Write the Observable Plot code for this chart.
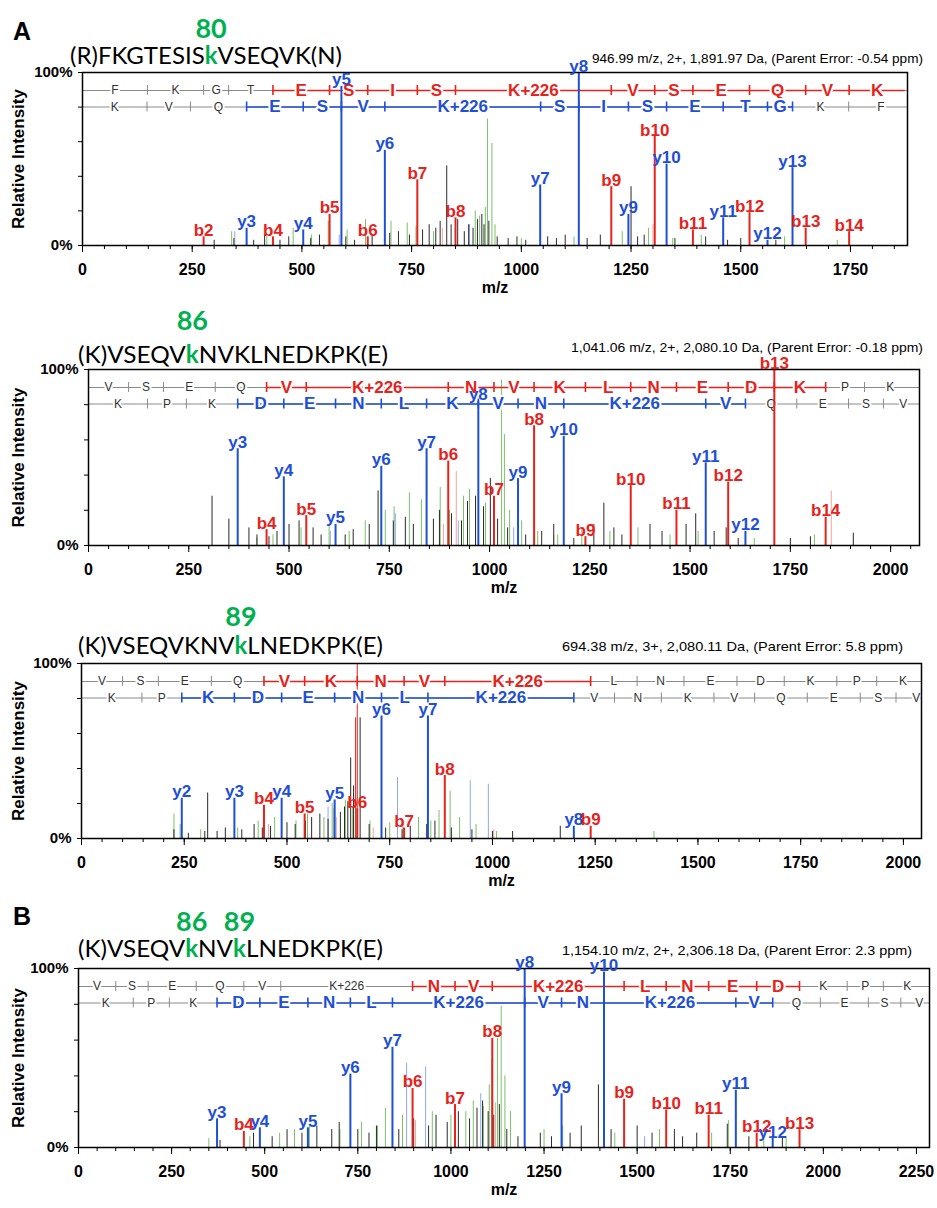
<!DOCTYPE html>
<html><head><meta charset="utf-8">
<script src="https://cdn.jsdelivr.net/npm/d3@7"></script>
<script src="https://cdn.jsdelivr.net/npm/@observablehq/plot@0.6"></script>
<style>
html,body{margin:0;padding:0;background:#fff;}
#page{position:relative;width:937px;height:1208px;overflow:hidden;background:#fff;}
#page svg{position:absolute;left:0;}
</style></head>
<body><div id="page"></div>
<script>
// ================= DATA =================
// ---- Panel A : (R)FKGTESISkVSEQVK(N) ----
const A_peptide = "(R)FKGTESISkVSEQVK(N)";
const A_sites = ["80"];
const A_info = "946.99 m/z, 2+, 1,891.97 Da,  (Parent Error: -0.54 ppm)";
const A_ionNames = ["b2","y3","b4","y4","b5","y5","b6","y6","b7","b8","y7","y8","b9","y9","b10","y10","b11","y11","b12","y12","y13","b13","b14"];
const A_ionMz    = [276,374,434,503,563,590,650,689,763,850,1043,1131,1205,1244,1304,1331,1391,1460,1520,1561,1618,1648,1747];
const A_ionInt   = [5,10,5,9,18,92,5,55,38,16,35,100,34,18,63,47,9,16,19,3,45,10,8];
const A_bgMz  = [300,345,390,415,450,470,520,540,600,620,660,700,720,745,775,790,805,815,830,840,855,870,880,890,900,910,915,926,945,970,990,1010,1060,1080,1100,1150,1180,1250,1265,1280,1350,1420,1470,1500,1580,
                 340,420,480,522,560,603,645,703,740,760,800,895,905,918,923,933,940,1000,1120,1230,1290,1345,1410,1600,1720,
                 347,585,882, 820,1300];
const A_bgInt = [3,4,3,6,3,5,4,6,5,3,6,7,8,6,9,12,10,14,46,12,15,8,12,10,15,18,12,14,5,4,5,3,5,4,6,4,6,34,5,6,4,5,3,4,3,
                 8,7,10,6,14,9,15,14,13,11,8,20,17,22,73,59,12,4,5,8,10,4,6,5,3,
                 8,6,12, 10,12];
const A_bgKind = ["k","k","k","k","k","k","k","k","k","k","k","k","k","k","k","k","k","k","k","k","k","k","k","k","k","k","k","k","k","k","k","k","k","k","k","k","k","k","k","k","k","k","k","k","k",
                 "g","g","g","g","g","g","g","g","g","g","g","g","g","g","g","g","g","g","g","g","g","g","g","g","g",
                 "lb","lb","lb","lr","lr"];
const A_bRes = ["F","K","G","T","E","S","I","S","K+226","V","S","E","Q","V","K"];
const A_bCut = [0,148,276,333,434,563,650,763,850,1205,1304,1391,1520,1648,1747,1875];
const A_bOn  = [0,0,0,0,1,1,1,1,1,1,1,1,1,1,1];
const A_yRes = ["K","V","Q","E","S","V","K+226","S","I","S","E","T","G","K","F"];
const A_yCut = [0,147,246,374,503,590,689,1044,1131,1244,1331,1460,1561,1618,1746,1893];
const A_yOn  = [0,0,0,1,1,1,1,1,1,1,1,1,1,0,0];

// ---- Panel 86 : (K)VSEQVkNVKLNEDKPK(E) ----
const C86_peptide = "(K)VSEQVkNVKLNEDKPK(E)";
const C86_sites = ["86"];
const C86_info = "1,041.06 m/z, 2+, 2,080.10 Da,  (Parent Error: -0.18 ppm)";
const C86_ionNames = ["y3","b4","y4","b5","y5","y6","y7","b6","y8","b7","y9","b8","y10","b9","b10","b11","y11","b12","y12","b13","b14"];
const C86_ionMz    = [372,444,487,543,616,730,843,897,972,1011,1071,1111,1185,1239,1352,1466,1539,1595,1638,1710,1838];
const C86_ionInt   = [55,9,39,17,12,45,55,48,82,28,38,68,62,5,34,20,47,36,8,100,16];
const C86_bgMz  = [308,350,400,420,450,470,500,525,560,580,640,660,700,722,760,790,810,860,875,905,930,945,965,985,1002,1020,1045,1090,1130,1160,1210,1260,1285,1310,1330,1400,1430,1490,1514,1560,1590,1620,1750,1800,1907,
                   420,460,530,600,650,690,740,762,800,830,877,900,935,950,990,1030,1037,1050,1080,1120,1170,1230,1300,1370,1450,1520,1660,1810,
                   603,765,922,1060, 885,917,1160,1852];
const C86_bgInt = [28,15,10,6,5,8,12,14,10,6,6,9,12,31,14,16,12,15,20,18,14,25,28,22,38,15,10,6,8,12,4,12,24,10,6,12,8,12,18,8,10,4,4,5,7,
                   4,6,10,12,8,14,20,22,30,26,33,20,28,32,24,94,63,20,14,8,6,10,8,10,6,8,4,6,
                   8,18,14,10, 12,42,6,31];
const C86_bgKind = ["k","k","k","k","k","k","k","k","k","k","k","k","k","k","k","k","k","k","k","k","k","k","k","k","k","k","k","k","k","k","k","k","k","k","k","k","k","k","k","k","k","k","k","k","k",
                   "g","g","g","g","g","g","g","g","g","g","g","g","g","g","g","g","g","g","g","g","g","g","g","g","g","g","g","g",
                   "lb","lb","lb","lb","lr","lr","lr","lr"];
const C86_bRes = ["V","S","E","Q","V","K+226","N","V","K","L","N","E","D","K","P","K"];
const C86_bCut = [0,100,187,316,444,543,897,1011,1111,1239,1352,1466,1595,1710,1838,1935,2063];
const C86_bOn  = [0,0,0,0,1,1,1,1,1,1,1,1,1,1,0,0];
const C86_yRes = ["K","P","K","D","E","N","L","K","V","N","K+226","V","Q","E","S","V"];
const C86_yCut = [0,147,244,372,487,616,730,843,972,1071,1185,1539,1638,1766,1895,1982,2081];
const C86_yOn  = [0,0,0,1,1,1,1,1,1,1,1,1,0,0,0,0];

// ---- Panel 89 : (K)VSEQVKNVkLNEDKPK(E) ----
const C89_peptide = "(K)VSEQVKNVkLNEDKPK(E)";
const C89_sites = ["89"];
const C89_info = "694.38 m/z, 3+, 2,080.11 Da,  (Parent Error: 5.8 ppm)";
const C89_ionNames = ["y2","y3","b4","y4","b5","y5","b6","y6","b7","y7","b8","y8","b9"];
const C89_ionMz    = [244,372,444,487,543,616,671,730,785,843,884,1198,1239];
const C89_ionInt   = [23,23,19,23,14,22,17,70,6,70,36,7,7];
const C89_bgMz  = [225,260,300,307,330,350,390,420,440,460,500,520,545,560,580,600,615,630,640,648,655,662,678,700,740,780,800,840,860,900,950,1000,1049,1165,
                   225,240,290,380,430,470,522,550,590,610,642,660,702,750,782,820,850,870,897,920,960,1010,1393,
                   600,769,946,990, 455,620,710,1003, 667,671];
const C89_bgInt = [5,3,4,26,4,6,5,8,6,7,9,8,10,12,14,11,17,15,18,21,46,30,69,8,6,5,7,8,10,6,5,4,4,7,
                   14,8,5,6,10,12,10,14,12,20,22,18,10,9,8,12,10,16,27,12,8,4,4,
                   18,35,33,31, 8,12,6,5, 69,100];
const C89_bgKind = ["k","k","k","k","k","k","k","k","k","k","k","k","k","k","k","k","k","k","k","k","k","k","k","k","k","k","k","k","k","k","k","k","k","k",
                   "g","g","g","g","g","g","g","g","g","g","g","g","g","g","g","g","g","g","g","g","g","g","g",
                   "lb","lb","lb","lb","lr","lr","lr","lr","r","r"];
const C89_bRes = ["V","S","E","Q","V","K","N","V","K+226","L","N","E","D","K","P","K"];
const C89_bCut = [0,100,187,316,444,543,671,785,884,1239,1352,1466,1595,1710,1838,1935,2063];
const C89_bOn  = [0,0,0,0,1,1,1,1,1,0,0,0,0,0,0,0];
const C89_yRes = ["K","P","K","D","E","N","L","K+226","V","N","K","V","Q","E","S","V"];
const C89_yCut = [0,147,244,372,487,616,730,843,1198,1297,1411,1539,1638,1766,1895,1982,2081];
const C89_yOn  = [0,0,1,1,1,1,1,1,0,0,0,0,0,0,0,0];

// ---- Panel B : (K)VSEQVkNVkLNEDKPK(E) ----
const B_peptide = "(K)VSEQVkNVkLNEDKPK(E)";
const B_sites = ["86","89"];
const B_info = "1,154.10 m/z, 2+, 2,306.18 Da,  (Parent Error: 2.3 ppm)";
const B_ionNames = ["y3","b4","y4","y5","y6","y7","b6","b7","b8","y8","y9","y10","b9","b10","b11","y11","b12","y12","b13"];
const B_ionMz    = [372,444,487,616,730,843,897,1011,1111,1198,1297,1411,1465,1578,1692,1765,1821,1864,1936];
const B_ionInt   = [16,9,11,11,41,56,33,24,61,100,30,98,27,21,18,32,8,5,10];
const B_bgMz  = [380,470,520,560,600,640,680,700,750,780,800,860,900,940,960,990,1020,1050,1070,1085,1100,1115,1130,1150,1180,1240,1270,1320,1350,1396,1430,1500,1540,1600,1622,1660,1742,1800,1890,
                 350,460,540,580,620,702,760,803,824,870,950,1000,1040,1060,1087,1103,1110,1125,1135,1145,1160,1250,1300,1440,1560,1700,1745,1840,1900,
                 881,932,1080,1520, 905,1120];
const B_bgInt = [4,8,6,10,8,12,10,14,10,8,12,10,16,12,18,14,20,16,22,26,20,18,24,10,6,8,6,8,12,35,10,12,8,10,6,8,13,6,5,
                 5,6,8,10,12,10,14,12,22,18,20,18,20,26,23,35,49,61,79,40,20,10,12,8,10,8,15,6,5,
                 47,45,30,6, 15,25];
const B_bgKind = ["k","k","k","k","k","k","k","k","k","k","k","k","k","k","k","k","k","k","k","k","k","k","k","k","k","k","k","k","k","k","k","k","k","k","k","k","k","k","k",
                 "g","g","g","g","g","g","g","g","g","g","g","g","g","g","g","g","g","g","g","g","g","g","g","g","g","g","g","g","g",
                 "lb","lb","lb","lb","lr","lr"];
const B_bRes = ["V","S","E","Q","V","K+226","N","V","K+226","L","N","E","D","K","P","K"];
const B_bCut = [0,100,187,316,444,543,897,1011,1111,1465,1578,1692,1821,1936,2064,2161,2289];
const B_bOn  = [0,0,0,0,0,0,1,1,1,1,1,1,1,0,0,0];
const B_yRes = ["K","P","K","D","E","N","L","K+226","V","N","K+226","V","Q","E","S","V"];
const B_yCut = [0,147,244,372,487,616,730,843,1198,1297,1411,1765,1864,1992,2121,2208,2307];
const B_yOn  = [0,0,0,1,1,1,1,1,1,1,1,1,0,0,0,0];

const xTickLabels = [0,250,500,750,1000,1250,1500,1750,2000,2250];

// ================= STYLE / LAYOUT =================
const W = 937, PAGE_H = 1208;
const RED = "#e5231d", BLUE = "#1f4fd3", SITE_GREEN = "#00b050";
const BGCOL = {k:"#2a2a2a", g:"#7cc06a", lb:"#8ea8ec", lr:"#f3a49c", r:"#e5231d"};
const SANS = "'Liberation Sans', Arial, sans-serif";
const NARROW = "'Liberation Sans Narrow', 'Arial Narrow', 'Liberation Sans', Arial, sans-serif";
const PEPFONT = "Lato, 'Open Sans', sans-serif";

const page = document.getElementById("page");

function ladderMarks(res, cuts, on, color, rowY, half, xmax) {
  const segs = [], ticks = [], letters = [];
  res.forEach((r, i) => {
    const a = cuts[i], b = Math.min(cuts[i + 1], xmax);
    if (on[i]) segs.push({x1: a, x2: b});
    letters.push({x: (cuts[i] + cuts[i + 1]) / 2, t: r, on: on[i]});
    if (i > 0) ticks.push({x: a, on: on[i] || on[i - 1]});
  });
  const grey = "#8a8a8a";
  return [
    Plot.ruleY([rowY], {stroke: grey, strokeWidth: 1}),
    Plot.ruleY(segs, {y: rowY, x1: "x1", x2: "x2", stroke: color, strokeWidth: 1.6}),
    Plot.ruleX(ticks.filter(d => !d.on), {x: "x", y1: rowY - half, y2: rowY + half, stroke: grey, strokeWidth: 1}),
    Plot.ruleX(ticks.filter(d => d.on), {x: "x", y1: rowY - half, y2: rowY + half, stroke: color, strokeWidth: 1.6}),
    Plot.text(letters.filter(d => !d.on), {x: "x", y: rowY, text: "t", fill: "#333", fontSize: 12, fontWeight: "normal",
      fontFamily: NARROW, stroke: "white", strokeWidth: 4, paintOrder: "stroke"}),
    Plot.text(letters.filter(d => d.on), {x: "x", y: rowY, text: "t", fill: color, fontSize: 17, fontWeight: "bold",
      fontFamily: NARROW, stroke: "white", strokeWidth: 4, paintOrder: "stroke"})
  ];
}

function drawPanel(P) {
  const H = P.frameBottom - P.frameTop;
  const mt = 26, mb = 64;
  const toInt = px => px / H * 100;
  const row1 = 100 - toInt(18), row2 = 100 - toInt(34.5), half = toInt(5);
  const ions = P.ionNames.map((n, i) => ({name: n, mz: P.ionMz[i], int: P.ionInt[i]}));
  const bg = P.bgMz.map((m, i) => ({mz: m, int: P.bgInt[i], kind: P.bgKind[i]}));
  const order = ["g", "lb", "lr", "k", "r"];
  bg.sort((a, b) => order.indexOf(a.kind) - order.indexOf(b.kind));
  const ticks250 = xTickLabels.filter(v => v <= P.xmax);
  const ticks50 = d3.range(0, P.xmax + 1, 50);
  const chart = Plot.plot({
    width: W,
    height: mt + H + mb,
    marginTop: mt, marginBottom: mb,
    marginLeft: P.frameLeft, marginRight: W - P.frameRight,
    x: {domain: [0, P.xmax], axis: null},
    y: {domain: [0, 100], axis: null},
    style: {fontFamily: NARROW, fontWeight: "bold", background: "white", overflow: "visible"},
    marks: [
      Plot.ruleX(bg, {x: "mz", y1: 0, y2: "int", stroke: d => BGCOL[d.kind], strokeWidth: 1}),
      ...ladderMarks(P.bRes, P.bCut, P.bOn, RED, row1, half, P.xmax),
      ...ladderMarks(P.yRes, P.yCut, P.yOn, BLUE, row2, half, P.xmax),
      Plot.ruleX(ions, {x: "mz", y1: 0, y2: "int", stroke: d => d.name[0] === "b" ? RED : BLUE, strokeWidth: 2}),
      Plot.frame({stroke: "black", strokeWidth: 1.5}),
      Plot.text(ions, {x: "mz", y: "int", text: "name", fill: d => d.name[0] === "b" ? RED : BLUE,
        lineAnchor: "bottom", dy: -1, fontSize: 17, fontWeight: "bold", fontFamily: NARROW}),
      Plot.axisX({ticks: ticks50, tickSize: 4, tickFormat: () => "", label: null, stroke: "black"}),
      Plot.axisX({ticks: ticks250, tickSize: 7, tickPadding: 11, label: null, fontSize: 16, fontWeight: "bold",
        fontFamily: NARROW, tickFormat: d => String(d), stroke: "black"}),
      Plot.axisY({ticks: [20, 40, 60, 80], tickSize: 4, tickFormat: () => "", label: null}),
      Plot.axisY({ticks: [0, 100], tickSize: 4, tickPadding: 6, tickFormat: d => d + "%", label: null,
        fontSize: 15, fontWeight: "bold", fontFamily: NARROW}),
      Plot.text(["m/z"], {frameAnchor: "bottom", dy: 47, fontSize: 16, fontWeight: "bold", fontFamily: NARROW}),
      Plot.text(["Relative Intensity"], {frameAnchor: "left", dx: -(P.frameLeft - 18), rotate: -90,
        textAnchor: "middle", fontSize: 17, fontWeight: "bold", fontFamily: NARROW})
    ]
  });
  chart.style.position = "absolute";
  chart.style.top = (P.frameTop - mt) + "px";
  chart.style.left = "0px";
  page.appendChild(chart);
}

const panels = [
  {ionNames: A_ionNames, ionMz: A_ionMz, ionInt: A_ionInt, bgMz: A_bgMz, bgInt: A_bgInt, bgKind: A_bgKind,
   bRes: A_bRes, bCut: A_bCut, bOn: A_bOn, yRes: A_yRes, yCut: A_yCut, yOn: A_yOn,
   xmax: 1880, frameLeft: 82, frameRight: 907, frameTop: 72, frameBottom: 245,
   head: {letter: "A", letterY: 40, peptide: A_peptide, sites: A_sites, siteY: 38, pepX: 70, pepY: 64, pepLen: 272,
          info: A_info, infoX0: 592, infoX1: 923, infoY: 63}},
  {ionNames: C86_ionNames, ionMz: C86_ionMz, ionInt: C86_ionInt, bgMz: C86_bgMz, bgInt: C86_bgInt, bgKind: C86_bgKind,
   bRes: C86_bRes, bCut: C86_bCut, bOn: C86_bOn, yRes: C86_yRes, yCut: C86_yCut, yOn: C86_yOn,
   xmax: 2072, frameLeft: 88, frameRight: 919, frameTop: 369, frameBottom: 545,
   head: {letter: null, peptide: C86_peptide, sites: C86_sites, siteY: 330, pepX: 78, pepY: 363, pepLen: 310,
          info: C86_info, infoX0: 571, infoX1: 923, infoY: 352}},
  {ionNames: C89_ionNames, ionMz: C89_ionMz, ionInt: C89_ionInt, bgMz: C89_bgMz, bgInt: C89_bgInt, bgKind: C89_bgKind,
   bRes: C89_bRes, bCut: C89_bCut, bOn: C89_bOn, yRes: C89_yRes, yCut: C89_yCut, yOn: C89_yOn,
   xmax: 2044, frameLeft: 81, frameRight: 921, frameTop: 663, frameBottom: 838,
   head: {letter: null, peptide: C89_peptide, sites: C89_sites, siteY: 626, pepX: 78, pepY: 654, pepLen: 305,
          info: C89_info, infoX0: 562, infoX1: 903, infoY: 651}},
  {ionNames: B_ionNames, ionMz: B_ionMz, ionInt: B_ionInt, bgMz: B_bgMz, bgInt: B_bgInt, bgKind: B_bgKind,
   bRes: B_bRes, bCut: B_bCut, bOn: B_bOn, yRes: B_yRes, yCut: B_yCut, yOn: B_yOn,
   xmax: 2285, frameLeft: 78, frameRight: 929, frameTop: 968, frameBottom: 1147,
   head: {letter: "B", letterY: 925, peptide: B_peptide, sites: B_sites, siteY: 931, pepX: 78, pepY: 957, pepLen: 305,
          info: B_info, infoX0: 562, infoX1: 912, infoY: 955}}
];

panels.forEach(drawPanel);

// ================= HEADINGS (overlay) =================
const ov = d3.create("svg").attr("width", W).attr("height", PAGE_H)
  .style("position", "absolute").style("left", "0px").style("top", "0px").style("pointer-events", "none");
page.appendChild(ov.node());

panels.forEach(P => {
  const h = P.head;
  if (h.letter) {
    ov.append("text").attr("x", 13).attr("y", h.letterY).text(h.letter)
      .attr("font-family", SANS).attr("font-weight", "bold").attr("font-size", 25).attr("fill", "black");
  }
  const t = ov.append("text").attr("x", h.pepX).attr("y", h.pepY)
    .attr("font-family", PEPFONT).attr("font-size", 24).attr("fill", "black")
    .attr("textLength", h.pepLen).attr("lengthAdjust", "spacingAndGlyphs");
  const kIdx = [];
  [...h.peptide].forEach((ch, i) => {
    if (ch === "k") kIdx.push(i);
    t.append("tspan").text(ch)
      .attr("fill", ch === "k" ? SITE_GREEN : "black")
      .attr("font-weight", ch === "k" ? "bold" : "normal");
  });
  const node = t.node();
  kIdx.forEach((ci, j) => {
    let cx;
    try {
      const s = node.getStartPositionOfChar(ci).x, e = node.getEndPositionOfChar(ci).x;
      cx = (s + e) / 2;
    } catch (err) { cx = h.pepX + h.pepLen * (ci + 0.5) / h.peptide.length; }
    ov.append("text").attr("x", cx).attr("y", h.siteY).attr("text-anchor", "middle").text(h.sites[j])
      .attr("font-family", PEPFONT).attr("font-weight", "bold").attr("font-size", 27).attr("fill", SITE_GREEN);
  });
  ov.append("text").attr("x", h.infoX0).attr("y", h.infoY).text(h.info)
    .attr("font-family", NARROW).attr("font-size", 13).attr("fill", "black")
    .attr("textLength", h.infoX1 - h.infoX0).attr("lengthAdjust", "spacingAndGlyphs");
});
</script>
</body></html>
